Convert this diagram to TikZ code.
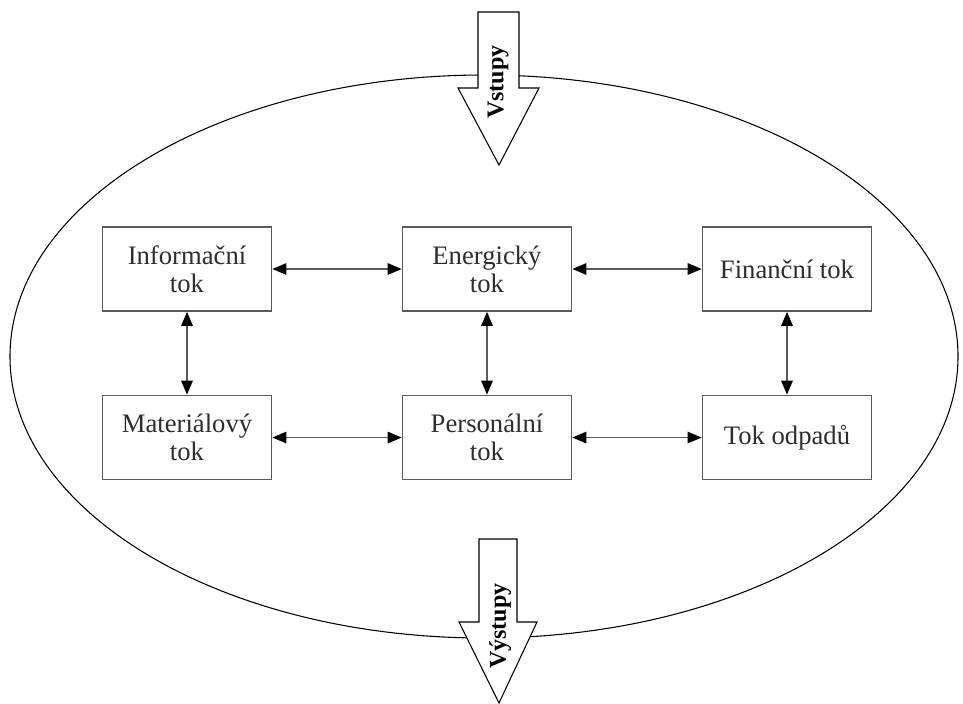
\documentclass[tikz,border=0pt]{standalone}
\usepackage{fontspec}
\setmainfont{Liberation Serif}
\usepackage{xcolor}
\usepackage{tikz}
\usetikzlibrary{shapes,arrows.meta,positioning}
\definecolor{boxgray}{RGB}{90,90,90}
\definecolor{txtgray}{RGB}{45,45,45}

\begin{document}
\begin{tikzpicture}[x=0.75pt, y=-0.75pt, node distance=225pt,
    flow/.style={rectangle, draw=boxgray, line width=1.2pt, minimum width=126.75pt, minimum height=63pt, align=center, text=txtgray, font=\fontsize{20}{21}\selectfont, inner sep=2pt},
    arrow/.style={{Triangle[length=10.5pt,width=8.5pt,color=black]}-{Triangle[length=10.5pt,width=8.5pt,color=black]}, draw=boxgray, line width=1.3pt},
    bigarrow/.style={draw=black, line width=0.8pt, fill=white},
    arrowtext/.style={rotate=90, font=\fontsize{18}{18}\selectfont\bfseries, text=black, inner sep=0pt}]
  \useasboundingbox (0,0) rectangle (963,703);
  \draw[line width=0.8pt] (484,356.5) ellipse [x radius=474, y radius=281.5];
  \draw[bigarrow] (478,12) -- (519,12) -- (519,88) -- (539,88) -- (499,165) -- (458,88) -- (478,88) -- cycle;
  \node[arrowtext] (vstupy) at (498,82) {Vstupy};
  \draw[bigarrow] (479,539) -- (517,539) -- (517,622) -- (537,622) -- (499,703) -- (459,622) -- (479,622) -- cycle;
  \node[arrowtext] (vystupy) at (500,626) {Výstupy};
  \node[flow] (info) at (187,269) {Informační\\tok};
  \node[flow, right of=info] (energ) {Energický\\tok};
  \node[flow, right of=energ] (fin) {Finanční tok};
  \node[flow, below of=info, node distance=126.4pt] (mat) {Materiálový\\tok};
  \node[flow, below of=energ, node distance=126.4pt] (pers) {Personální\\tok};
  \node[flow, below of=fin, node distance=126.4pt] (odpad) {Tok odpadů};
  \draw[arrow] (info) -- (energ);
  \draw[arrow] (energ) -- (fin);
  \draw[arrow] (mat) -- (pers);
  \draw[arrow] (pers) -- (odpad);
  \draw[arrow] (info) -- (mat);
  \draw[arrow] (energ) -- (pers);
  \draw[arrow] (fin) -- (odpad);
\end{tikzpicture}
\end{document}
